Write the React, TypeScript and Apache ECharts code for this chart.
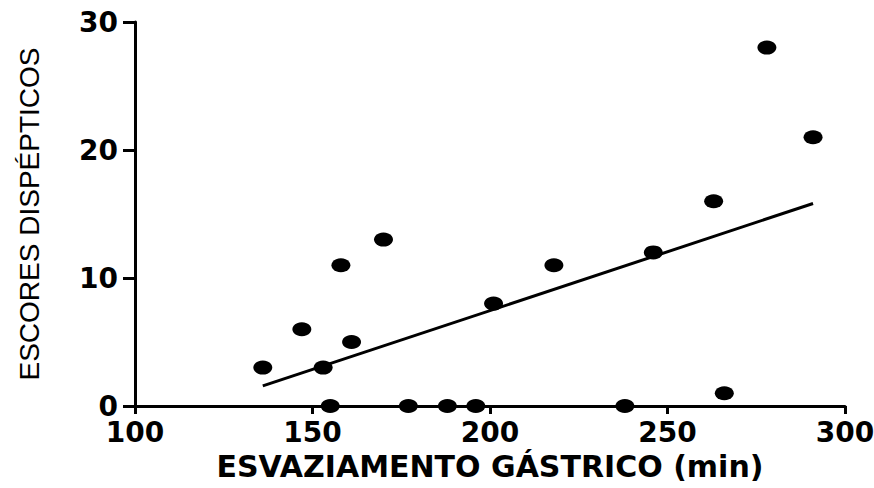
import React, { useEffect, useRef } from "react";
import * as echarts from "echarts";

const esvaziamento = [136, 147, 153, 155, 158, 161, 170, 177, 188, 196, 201, 218, 238, 246, 263, 266, 278, 291];
const escores = [3, 6, 3, 0, 11, 5, 13, 0, 0, 0, 8, 11, 0, 12, 16, 1, 28, 21];
const xTicks = [100, 150, 200, 250, 300];
const yTicks = [0, 10, 20, 30];

function regression(xs: number[], ys: number[]) {
  const n = xs.length;
  const mx = xs.reduce((a, b) => a + b, 0) / n;
  const my = ys.reduce((a, b) => a + b, 0) / n;
  let sxy = 0;
  let sxx = 0;
  for (let i = 0; i < n; i++) {
    sxy += (xs[i] - mx) * (ys[i] - my);
    sxx += (xs[i] - mx) * (xs[i] - mx);
  }
  const b = sxy / sxx;
  const a = my - b * mx;
  const x0 = Math.min(...xs);
  const x1 = Math.max(...xs);
  return [
    [x0, a + b * x0],
    [x1, a + b * x1],
  ];
}

export default function App() {
  const ref = useRef<HTMLDivElement>(null);
  useEffect(() => {
    if (!ref.current) return;
    const chart = echarts.init(ref.current, undefined, { renderer: "svg" });
    const tickFont = {
      fontFamily: "DejaVu Sans",
      fontWeight: "bold" as const,
      fontSize: 28,
      color: "#000",
    };
    chart.setOption({
      animation: false,
      backgroundColor: "#fff",
      grid: { left: 135, right: 29, top: 22, bottom: 82, containLabel: false, outerBoundsMode: "none" },
      xAxis: {
        type: "value",
        min: xTicks[0],
        max: xTicks[xTicks.length - 1],
        interval: xTicks[1] - xTicks[0],
        name: "ESVAZIAMENTO GÁSTRICO (min)",
        nameLocation: "middle",
        nameGap: 45,
        nameTextStyle: {
          fontFamily: "DejaVu Sans",
          fontWeight: "bold",
          fontSize: 30,
          color: "#000",
        },
        axisLine: { show: true, onZero: false, lineStyle: { color: "#000", width: 3 } },
        axisTick: { show: true, length: 8, lineStyle: { color: "#000", width: 3 } },
        axisLabel: { ...tickFont, margin: 14, lineHeight: 24 },
        splitLine: { show: false },
      },
      yAxis: {
        type: "value",
        min: yTicks[0],
        max: yTicks[yTicks.length - 1],
        interval: yTicks[1] - yTicks[0],
        name: "ESCORES DISPÉPTICOS",
        nameLocation: "middle",
        nameGap: 92,
        nameTextStyle: {
          fontFamily: "Liberation Sans",
          fontWeight: "normal",
          fontSize: 28,
          color: "#000",
        },
        axisLine: { show: true, onZero: false, lineStyle: { color: "#000", width: 3 } },
        axisTick: { show: true, length: 12, lineStyle: { color: "#000", width: 3 } },
        axisLabel: { ...tickFont, margin: 17, lineHeight: 20 },
        splitLine: { show: false },
      },
      series: [
        {
          type: "line",
          data: regression(esvaziamento, escores),
          showSymbol: false,
          symbol: "none",
          lineStyle: { color: "#000", width: 3 },
          z: 3,
        },
        {
          type: "scatter",
          data: esvaziamento.map((x, i) => [x, escores[i]]),
          symbol: "circle",
          symbolSize: [19, 14],
          itemStyle: { color: "#000", opacity: 1 },
          z: 4,
        },
      ],
    });
    return () => chart.dispose();
  }, []);
  return (
    <div
      ref={ref}
      style={{ position: "absolute", left: 0, top: 0, width: 874, height: 488 }}
    />
  );
}
